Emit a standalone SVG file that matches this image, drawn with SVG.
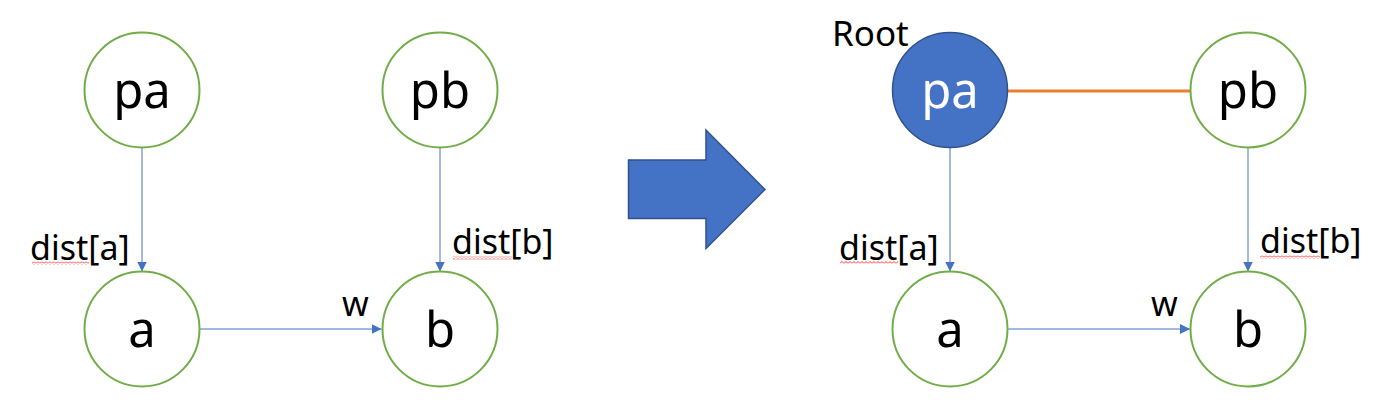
<svg xmlns="http://www.w3.org/2000/svg" width="1379" height="407" viewBox="0 0 1379 407">
<style>
.node{fill:#FFFFFF;stroke:#70AD47;stroke-width:2}
.root{fill:#4472C4;stroke:#2F528F;stroke-width:1.5}
.nl{font-family:"Noto Sans","Open Sans",sans-serif;font-size:49px;fill:#000;text-anchor:middle}
.lbl{font-family:"Noto Sans","Open Sans",sans-serif;font-size:34px;fill:#000}
.edge{stroke:#4472C4;stroke-width:1;fill:none;marker-end:url(#ah)}
</style>
<defs>
<marker id="ah" viewBox="0 0 10 10" refX="10" refY="5" markerWidth="10" markerHeight="10" markerUnits="userSpaceOnUse" orient="auto">
<path d="M0,0 L10,5 L0,10 Z" fill="#4472C4"/>
</marker>
<pattern id="sq" x="0" y="0" width="4" height="3" patternUnits="userSpaceOnUse">
<polyline points="0,2.5 2,0.5 4,2.5" fill="none" stroke="#FF0000" stroke-width="0.8"/>
</pattern>
</defs>
<rect width="1379" height="407" fill="#FFFFFF"/>
<g id="connectors">
<line class="edge" x1="142" y1="148" x2="142" y2="271.5"/>
<line class="edge" x1="440" y1="148" x2="440" y2="271.5"/>
<line class="edge" x1="200" y1="329" x2="381.5" y2="329"/>
<line class="edge" x1="950" y1="148" x2="950" y2="271.5"/>
<line class="edge" x1="1248" y1="148" x2="1248" y2="271.5"/>
<line class="edge" x1="1008" y1="329" x2="1190" y2="329"/>
<line x1="1008" y1="91" x2="1190" y2="91" stroke="#ED7D31" stroke-width="3"/>
</g>
<g id="node-pa-left"><circle class="node" cx="142" cy="90" r="57.5"/><text class="nl" x="142" y="108">pa</text></g>
<g id="node-pb-left"><circle class="node" cx="440" cy="90" r="57.5"/><text class="nl" x="440" y="108">pb</text></g>
<g id="node-a-left"><circle class="node" cx="142" cy="329" r="57.5"/><text class="nl" x="142" y="347">a</text></g>
<g id="node-b-left"><circle class="node" cx="440" cy="329" r="57.5"/><text class="nl" x="440" y="347">b</text></g>
<g id="node-pa-right"><circle class="root" cx="950" cy="90" r="57.5"/><text class="nl" x="950" y="108" style="fill:#FFFFFF">pa</text></g>
<g id="node-pb-right"><circle class="node" cx="1248" cy="90" r="57.5"/><text class="nl" x="1248" y="108">pb</text></g>
<g id="node-a-right"><circle class="node" cx="950" cy="329" r="57.5"/><text class="nl" x="950" y="347">a</text></g>
<g id="node-b-right"><circle class="node" cx="1248" cy="329" r="57.5"/><text class="nl" x="1248" y="347">b</text></g>
<g id="big-arrow"><polygon points="628.5,160 706,160 706,130 765,189.5 706,248.5 706,218.5 628.5,218.5" fill="#4472C4" stroke="#2F528F" stroke-width="1.5"/></g>
<g id="labels">
<text class="lbl" x="30" y="260">dist[a]</text>
<text class="lbl" x="452" y="254">dist[b]</text>
<text class="lbl" x="342" y="316">w</text>
<text class="lbl" x="839" y="260">dist[a]</text>
<text class="lbl" x="1260" y="253">dist[b]</text>
<text class="lbl" x="1151" y="316">w</text>
<text class="lbl" x="832" y="46" style="font-size:35px">Root</text>
</g>
<g id="spellcheck">
<rect x="32" y="261.5" width="57" height="3" fill="url(#sq)"/>
<rect x="840" y="261" width="58" height="3" fill="url(#sq)"/>
<rect x="453" y="256.5" width="59" height="3" fill="url(#sq)"/>
<rect x="1260" y="255.5" width="60" height="3" fill="url(#sq)"/>
</g>
</svg>
